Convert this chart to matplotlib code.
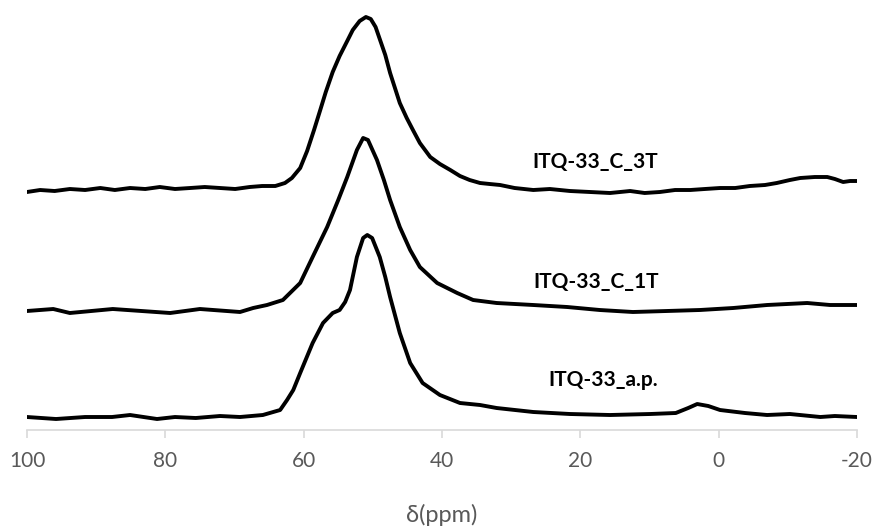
import numpy as np
import matplotlib
matplotlib.use('Agg')
import matplotlib.pyplot as plt

plt.rcParams['font.family'] = ['Lato', 'DejaVu Sans']
plt.rcParams['axes.unicode_minus'] = False

# 化学位移 (ppm) 与强度 (任意单位)
ppm_3t = [100, 98.1, 96.0, 93.8, 91.6, 89.4, 87.3, 85.1, 82.9, 80.8, 78.6, 76.4, 74.3, 72.1,
          69.9, 67.8, 66.0, 64.1, 62.7, 61.7, 60.5, 59.5, 58.5, 57.6, 56.8, 55.8, 54.8, 53.7,
          52.9, 51.9, 51.0, 50.3, 49.6, 49.0, 48.2, 47.5, 46.8, 46.1, 45.1, 44.2, 43.2, 41.7,
          40.3, 38.8, 37.4, 36.0, 34.5, 33.1, 31.6, 29.5, 26.8, 24.4, 21.5, 18.6, 15.7, 12.8,
          10.7, 8.5, 6.3, 4.1, 2.0, -0.2, -2.4, -4.5, -6.7, -8.4, -10.3, -11.8, -13.9, -15.7,
          -16.8, -18.0, -19.0, -20.0]
int_3t = [0, 2, 1, 3, 2, 4, 2, 4, 3, 5, 3, 4, 5, 4,
          3, 5, 6, 6, 9, 14, 24, 41, 62, 82, 100, 120, 136, 151,
          162, 171, 175, 173, 165, 153, 137, 119, 104, 89, 74, 62, 49, 35,
          28, 22, 16, 12, 9, 8, 7, 4, 2, 3, 1, 0, -1, 1,
          -1, 0, 2, 2, 3, 4, 4, 6, 7, 9, 12, 14, 15, 15,
          13, 10, 11, 11]

ppm_1t = [100, 96.2, 93.8, 87.6, 79.3, 75.0, 69.2, 67.3, 65.3, 63.0, 60.5, 58.7, 56.6, 55.0,
          53.7, 52.3, 51.4, 50.7, 49.4, 48.4, 47.5, 46.1, 44.6, 43.2, 40.7, 37.8, 35.5, 32.1,
          26.8, 21.9, 17.2, 12.4, 7.5, 2.7, -2.1, -7.0, -12.8, -16.1, -20.0]
int_1t = [-1, 1, -3, 1, -3, 1, -2, 2, 5, 10, 27, 53, 83, 110,
          133, 160, 172, 170, 150, 130, 110, 83, 60, 43, 27, 17, 10, 7,
          5, 3, 0, -2, -1, 0, 2, 5, 7, 5, 5]

ppm_ap = [100, 95.8, 91.6, 87.7, 85.1, 81.2, 78.6, 75.6, 72.1, 69.2, 65.9, 64.4, 63.4, 62.4,
          61.5, 60.5, 58.7, 57.2, 55.8, 54.8, 54.0, 53.3, 52.3, 51.4, 50.8, 50.1, 49.0, 48.2,
          47.5, 46.1, 44.6, 42.8, 40.3, 37.4, 34.5, 32.1, 26.8, 21.5, 15.7, 9.9, 6.2, 4.4,
          3.1, 1.5, -0.2, -3.8, -7.0, -10.3, -14.7, -16.8, -20.0]
int_ap = [0, -2, 0, 0, 2, -2, 0, -1, 1, 0, 2, 5, 7, 17,
          27, 44, 74, 94, 104, 107, 115, 127, 160, 179, 182, 179, 160, 140,
          120, 84, 54, 34, 22, 14, 12, 9, 5, 3, 2, 3, 4, 9,
          13, 11, 7, 4, 2, 3, 0, 1, 0]

names = ['ITQ-33_C_3T', 'ITQ-33_C_1T', 'ITQ-33_a.p.']
offsets = [238, 120, 13]
label_ppm = [17.9, 17.7, 16.7]
label_y = [268, 148, 50]

fig = plt.figure(figsize=(8.76, 5.28), dpi=100)
ax = fig.add_axes([0.0308, 0.1856, 0.9475, 0.8144])

for x, y, off in zip([ppm_3t, ppm_1t, ppm_ap], [int_3t, int_1t, int_ap], offsets):
    ax.plot(x, np.array(y) + off, color='black', lw=2.8,
            solid_joinstyle='round', solid_capstyle='round')

for name, lx, ly in zip(names, label_ppm, label_y):
    ax.text(lx, ly, name, ha='center', va='center', fontsize=15, fontweight='bold', color='black')

ax.set_xlim(100, -20)
ax.set_ylim(0, 430)
ax.set_xticks([100, 80, 60, 40, 20, 0, -20])
ax.set_yticks([])
for s in ['top', 'left', 'right']:
    ax.spines[s].set_visible(False)
ax.spines['bottom'].set_color('#d9d9d9')
ax.spines['bottom'].set_linewidth(1.2)
ax.tick_params(axis='x', direction='out', length=6, width=1.2, color='#d9d9d9',
               labelcolor='#595959', labelsize=15, pad=9)
ax.set_xlabel('δ(ppm)', fontsize=17, color='#595959', labelpad=24)

plt.savefig('out.png', dpi=100)
